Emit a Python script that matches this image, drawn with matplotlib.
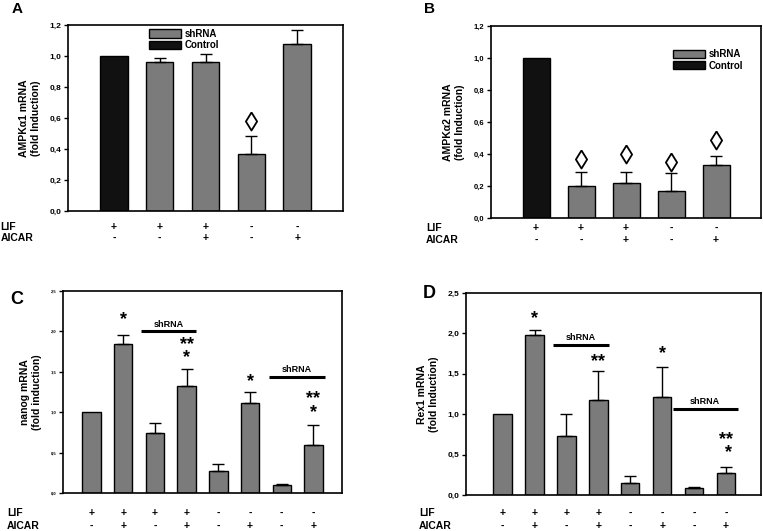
import numpy as np
import matplotlib
matplotlib.use("Agg")
import matplotlib.pyplot as plt
from matplotlib.patches import Patch
from matplotlib.ticker import FuncFormatter

plt.rcParams['font.family'] = ['Liberation Sans', 'DejaVu Sans']
plt.rcParams['font.weight'] = 'bold'

# 数据
lif_a = ['+', '+', '+', '-', '-']
aicar_a = ['-', '-', '+', '-', '+']
vals_a = [1.0, 0.96, 0.96, 0.37, 1.08]
err_a = [0.0, 0.03, 0.05, 0.115, 0.09]
diam_a = [None, None, None, 0.58, None]

vals_b = [1.0, 0.20, 0.22, 0.17, 0.33]
err_b = [0.0, 0.09, 0.065, 0.11, 0.055]
diam_b = [None, 0.37, 0.40, 0.35, 0.49]

lif_c = ['+', '+', '+', '+', '-', '-', '-', '-']
aicar_c = ['-', '+', '-', '+', '-', '+', '-', '+']
vals_c = [1.0, 1.84, 0.745, 1.32, 0.276, 1.115, 0.10, 0.60]
err_c = [0.0, 0.11, 0.125, 0.215, 0.085, 0.135, 0.012, 0.245]
# 星号标记: (中心 y, 文本)
stars_c = [None, (2.14, '*'), None, (1.76, '**\n*'), None,
           (1.38, '*'), None, (1.08, '**\n*')]
shrna_c = [(1.55, 3.3, 2.0), (5.6, 7.35, 1.44)]

vals_d = [1.0, 1.975, 0.735, 1.17, 0.153, 1.207, 0.083, 0.273]
err_d = [0.0, 0.065, 0.265, 0.36, 0.087, 0.383, 0.017, 0.07]
stars_d = [None, (2.18, '*'), None, (1.65, '**'), None,
           (1.75, '*'), None, (0.60, '**\n *')]
shrna_d = [(1.57, 3.32, 1.86), (5.33, 7.37, 1.066)]

GRAY = '#7b7b7b'
BLACK = '#111111'
W, H = 763, 531

fig = plt.figure(figsize=(W / 100, H / 100), dpi=100)


def rect(l, r, t, b):
    return [l / W, (H - b) / H, (r - l) / W, (b - t) / H]


comma = FuncFormatter(lambda v, p: ('%.1f' % v).replace('.', ','))
diamond = [(0, 1), (0.62, 0), (0, -1), (-0.62, 0), (0, 1)]


def setup(ax, ymax, ystep, tick_fs, ylabel, xlim):
    ax.set_ylim(0, ymax)
    ax.set_xlim(*xlim)
    ax.set_yticks(np.arange(0, ymax + 1e-9, ystep))
    ax.yaxis.set_major_formatter(comma)
    ax.set_xticks([])
    ax.tick_params(axis='y', direction='out', length=3, width=1,
                   labelsize=tick_fs, pad=2)
    for s in ax.spines.values():
        s.set_linewidth(1.2)
    ax.set_ylabel(ylabel, fontsize=7.5, fontweight='bold', labelpad=6)


def conditions(ax, x, lif, aicar, y1, y2, xlab):
    tr = ax.get_xaxis_transform()
    for i in range(len(x)):
        ax.text(x[i], y1, lif[i], transform=tr, ha='center', va='center',
                fontsize=7.5, fontweight='bold', clip_on=False)
        ax.text(x[i], y2, aicar[i], transform=tr, ha='center', va='center',
                fontsize=7.5, fontweight='bold', clip_on=False)
    ax.text(xlab, y1, 'LIF', transform=ax.transAxes, ha='left', va='center',
            fontsize=7.5, fontweight='bold', clip_on=False)
    ax.text(xlab, y2, 'AICAR', transform=ax.transAxes, ha='left', va='center',
            fontsize=7.5, fontweight='bold', clip_on=False)


def bars(ax, vals, err, colors, width):
    x = np.arange(len(vals))
    ax.bar(x, vals, width=width, color=colors, edgecolor='black', linewidth=1)
    e = np.array(err)
    m = e > 0
    ax.errorbar(x[m], np.array(vals)[m], yerr=[np.zeros(m.sum()), e[m]],
                fmt='none', ecolor='black', elinewidth=1, capsize=4, capthick=1)
    return x


def shrna(ax, lines, fs=6.5, dy=0.09):
    for x0, x1, y in lines:
        ax.plot([x0, x1], [y, y], color='black', lw=2.2, solid_capstyle='butt')
        ax.text((x0 + x1) / 2, y + dy, 'shRNA', ha='center', va='center',
                fontsize=fs, fontweight='bold')


def stars(ax, x, st):
    for i, item in enumerate(st):
        if item is None:
            continue
        y, s = item
        ax.text(x[i], y, s, ha='center', va='center', fontsize=13,
                fontweight='bold', linespacing=0.72)


legend_handles = [Patch(facecolor=GRAY, edgecolor='black', label='shRNA'),
                  Patch(facecolor=BLACK, edgecolor='black', label='Control')]

# A
axA = fig.add_axes(rect(68, 343, 25, 211))
xa = bars(axA, vals_a, err_a, [BLACK] + [GRAY] * 4, 0.6)
setup(axA, 1.2, 0.2, 6, 'AMPKα1 mRNA\n(fold Induction)', (-1.0, 5.0))
for i, d in enumerate(diam_a):
    if d is not None:
        axA.plot(xa[i], d, marker=diamond, ms=13, mfc='white', mec='black', mew=1.3)
conditions(axA, xa, lif_a, aicar_a, -0.085, -0.145, -0.245)
axA.legend(handles=legend_handles, loc='upper left', bbox_to_anchor=(0.28, 1.0),
           frameon=False, fontsize=7, handlelength=3.3, handleheight=0.9,
           labelspacing=0.15, handletextpad=0.4, borderaxespad=0)
fig.text(12 / W, 1 - 9 / H, 'A', fontsize=11, fontweight='bold', va='center')

# B
axB = fig.add_axes(rect(491, 761, 26, 218))
xb = bars(axB, vals_b, err_b, [BLACK] + [GRAY] * 4, 0.6)
setup(axB, 1.2, 0.2, 5.5, 'AMPKα2 mRNA\n(fold Induction)', (-1.0, 5.0))
for i, d in enumerate(diam_b):
    if d is not None:
        axB.plot(xb[i], d, marker=diamond, ms=13, mfc='white', mec='black', mew=1.3)
conditions(axB, xb, lif_a, aicar_a, -0.05, -0.115, -0.24)
axB.legend(handles=legend_handles, loc='upper left', bbox_to_anchor=(0.66, 0.9),
           frameon=False, fontsize=7, handlelength=3.3, handleheight=0.9,
           labelspacing=0.15, handletextpad=0.4, borderaxespad=0)
fig.text(424 / W, 1 - 9 / H, 'B', fontsize=11, fontweight='bold', va='center')

# C
axC = fig.add_axes(rect(63, 342, 291, 493))
xc = bars(axC, vals_c, err_c, [GRAY] * 8, 0.58)
setup(axC, 2.5, 0.5, 3, 'nanog mRNA\n(fold induction)', (-0.9, 7.9))
stars(axC, xc, stars_c)
shrna(axC, shrna_c)
conditions(axC, xc, lif_c, aicar_c, -0.1, -0.165, -0.2)
fig.text(10 / W, 1 - 300 / H, 'C', fontsize=13, fontweight='bold', va='center')

# D
axD = fig.add_axes(rect(466, 761, 293, 495))
xd = bars(axD, vals_d, err_d, [GRAY] * 8, 0.58)
setup(axD, 2.5, 0.5, 6, 'Rex1 mRNA\n(fold Induction)', (-1.15, 8.1))
stars(axD, xd, stars_d)
shrna(axD, shrna_d)
conditions(axD, xd, lif_c, aicar_c, -0.09, -0.155, -0.16)
fig.text(423 / W, 1 - 294 / H, 'D', fontsize=13, fontweight='bold', va='center')

fig.savefig('out.png', dpi=100)
